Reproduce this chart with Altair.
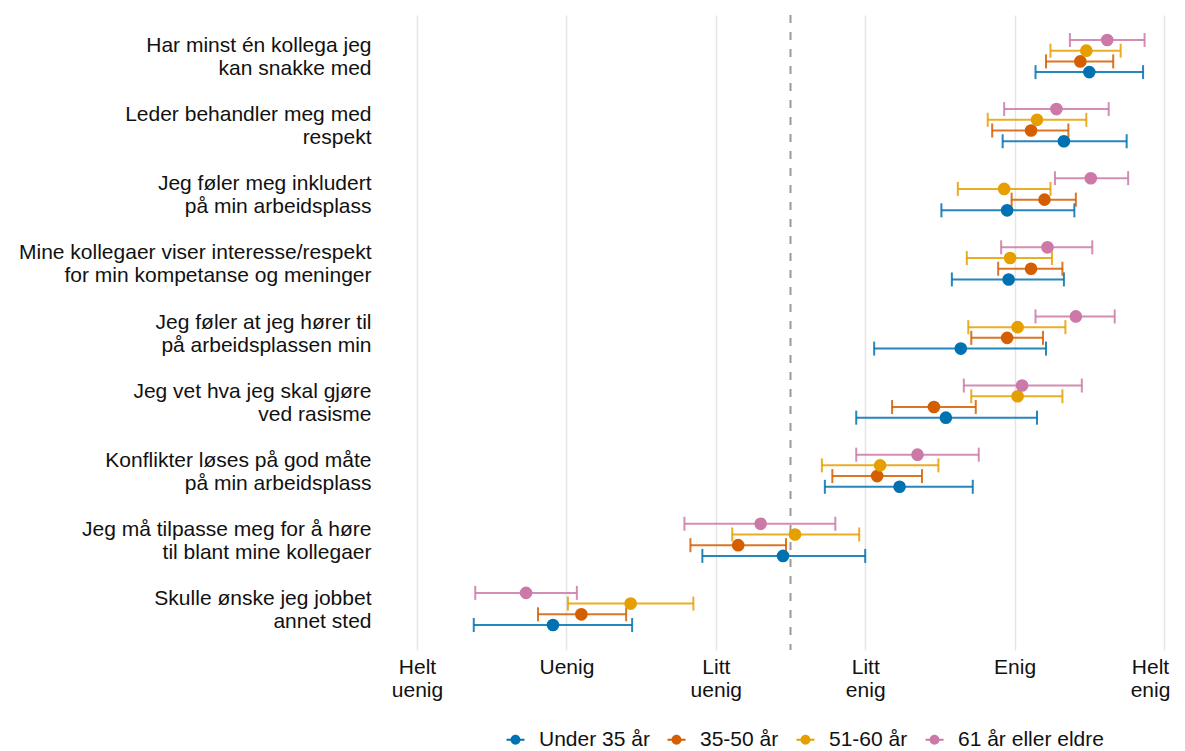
import altair as alt
import pandas as pd

# ---------------- data ----------------
statements = [
    "Har minst én kollega jeg|kan snakke med",
    "Leder behandler meg med|respekt",
    "Jeg føler meg inkludert|på min arbeidsplass",
    "Mine kollegaer viser interesse/respekt|for min kompetanse og meninger",
    "Jeg føler at jeg hører til|på arbeidsplassen min",
    "Jeg vet hva jeg skal gjøre|ved rasisme",
    "Konflikter løses på god måte|på min arbeidsplass",
    "Jeg må tilpasse meg for å høre|til blant mine kollegaer",
    "Skulle ønske jeg jobbet|annet sted",
]

groups = ["Under 35 år", "35-50 år", "51-60 år", "61 år eller eldre"]
group_colors = ["#0072B2", "#D55E00", "#E69F00", "#CC79A7"]

under35_mean = [5.50, 5.33, 4.95, 4.96, 4.64, 4.54, 4.23, 3.45, 1.91]
under35_lo = [5.14, 4.92, 4.51, 4.58, 4.06, 3.94, 3.73, 2.91, 1.38]
under35_hi = [5.86, 5.75, 5.40, 5.33, 5.21, 5.15, 4.72, 4.00, 2.44]

age35_50_mean = [5.44, 5.11, 5.20, 5.11, 4.95, 4.46, 4.08, 3.15, 2.10]
age35_50_lo = [5.21, 4.85, 4.98, 4.89, 4.71, 4.18, 3.78, 2.83, 1.81]
age35_50_hi = [5.66, 5.36, 5.41, 5.32, 5.19, 4.74, 4.38, 3.47, 2.40]

age51_60_mean = [5.48, 5.15, 4.93, 4.97, 5.02, 5.02, 4.10, 3.53, 2.43]
age51_60_lo = [5.24, 4.82, 4.62, 4.68, 4.69, 4.71, 3.71, 3.11, 2.01]
age51_60_hi = [5.71, 5.48, 5.24, 5.25, 5.34, 5.32, 4.49, 3.96, 2.85]

age61_mean = [5.62, 5.28, 5.51, 5.22, 5.41, 5.05, 4.35, 3.30, 1.73]
age61_lo = [5.37, 4.93, 5.27, 4.91, 5.14, 4.66, 3.94, 2.79, 1.39]
age61_hi = [5.87, 5.63, 5.76, 5.52, 5.67, 5.45, 4.76, 3.80, 2.07]

scale_values = [1, 2, 3, 4, 5, 6]
scale_labels = ["Helt|uenig", "Uenig", "Litt|uenig", "Litt|enig", "Enig", "Helt|enig"]
reference_value = [3.5]

# ---------------- table ----------------
series = [
    (groups[0], under35_mean, under35_lo, under35_hi),
    (groups[1], age35_50_mean, age35_50_lo, age35_50_hi),
    (groups[2], age51_60_mean, age51_60_lo, age51_60_hi),
    (groups[3], age61_mean, age61_lo, age61_hi),
]
rows = []
for g, m, lo, hi in series:
    for s, a, b, c in zip(statements, m, lo, hi):
        rows.append({"statement": s, "group": g, "mean": a, "lo": b, "hi": c})
df = pd.DataFrame(rows)
ref_df = pd.DataFrame({"ref": reference_value})

FONT = "Liberation Sans"
FS = 21

label_js = "[" + ",".join("'" + l + "'" for l in scale_labels) + "]"

x_scale = alt.Scale(domain=[1, 6], nice=False, zero=False)
y_enc = alt.Y(
    "statement:N",
    sort=statements,
    scale=alt.Scale(paddingInner=0.38, paddingOuter=0.284),
    axis=alt.Axis(
        title=None, domain=False, ticks=False, labelPadding=46,
        labelFontSize=FS, labelLineHeight=23, labelColor="#111",
        labelOffset=-10,
        labelLimit=600, labelExpr="split(datum.label, '|')", grid=False,
    ),
)
yoff_enc = alt.YOffset(
    "group:N",
    sort=list(reversed(groups)),
    scale=alt.Scale(domain=list(reversed(groups)), paddingInner=0, paddingOuter=0),
)
legend_symbol = (
    "M-1,-0.1H1V0.1H-1Z"
    "M-0.55,0A0.55,0.55,0,1,1,0.55,0A0.55,0.55,0,1,1,-0.55,0Z"
)
color_enc = alt.Color(
    "group:N",
    scale=alt.Scale(domain=groups, range=group_colors),
    legend=alt.Legend(
        title=None, orient="none", direction="horizontal",
        legendX=88, legendY=714, padding=0,
        symbolType=legend_symbol, symbolSize=324, symbolStrokeWidth=0,
        symbolOpacity=1, labelFontSize=FS, labelColor="#111",
        labelOffset=13, columnPadding=16,
    ),
)

x_axis = alt.Axis(
    title=None, values=scale_values, grid=True, gridColor="#e5e5e5",
    gridWidth=1.5, domain=False, ticks=False, labelFontSize=FS,
    labelLineHeight=23, labelPadding=6, labelColor="#111", labelFlush=False,
    labelOffset=alt.ConditionalAxisNumber(
        condition={"test": "datum.value == 6", "value": -14}, value=0
    ),
    labelExpr="split(" + label_js + "[datum.value - 1], '|')",
)

ref_rule = alt.Chart(ref_df).mark_rule(
    color="#9a9a9a", strokeWidth=2, strokeDash=[8, 9]
).encode(x=alt.X("ref:Q", scale=x_scale, axis=x_axis))

err_rule = alt.Chart(df).mark_rule(strokeWidth=2, opacity=0.85).encode(
    x=alt.X("lo:Q", scale=x_scale, axis=x_axis), x2="hi:Q",
    y=y_enc, yOffset=yoff_enc, color=color_enc,
)
cap_lo = alt.Chart(df).mark_tick(size=14, thickness=2, opacity=0.85).encode(
    x=alt.X("lo:Q", scale=x_scale, axis=x_axis),
    y=y_enc, yOffset=yoff_enc, color=color_enc,
)
cap_hi = alt.Chart(df).mark_tick(size=14, thickness=2, opacity=0.85).encode(
    x=alt.X("hi:Q", scale=x_scale, axis=x_axis),
    y=y_enc, yOffset=yoff_enc, color=color_enc,
)
points = alt.Chart(df).mark_circle(size=160, opacity=1).encode(
    x=alt.X("mean:Q", scale=x_scale, axis=x_axis),
    y=y_enc, yOffset=yoff_enc, color=color_enc,
)

chart = (
    alt.layer(ref_rule, err_rule, cap_lo, cap_hi, points)
    .properties(
        width=747, height=635,
        autosize=alt.AutoSizeParams(type="none"),
        padding={"left": 409, "top": 7, "right": 13, "bottom": 106},
    )
    .configure(font=FONT)
    .configure_view(stroke=None)
)

chart.save("out.html", embed_options={"renderer": "svg", "actions": False})
